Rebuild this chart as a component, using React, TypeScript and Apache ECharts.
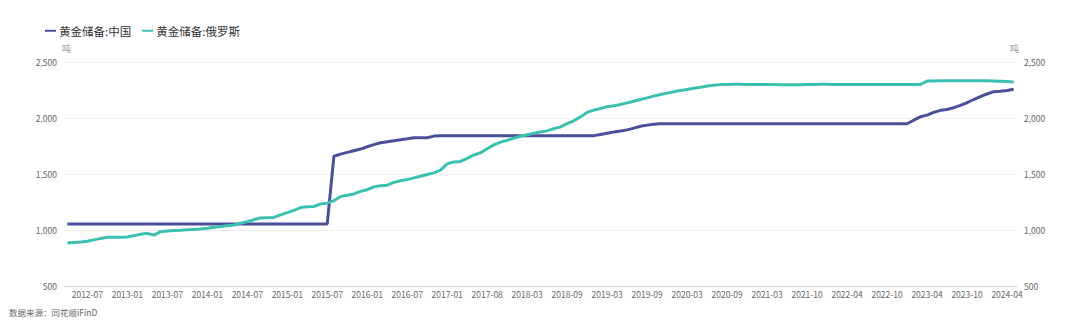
import React, { useEffect, useRef } from "react";
import * as echarts from "echarts";

const categories: string[] = [
  "2012-04","2012-05","2012-06","2012-07","2012-08","2012-09","2012-10","2012-11","2012-12",
  "2013-01","2013-02","2013-03","2013-04","2013-05","2013-06","2013-07","2013-08","2013-09","2013-10","2013-11","2013-12",
  "2014-01","2014-02","2014-03","2014-04","2014-05","2014-06","2014-07","2014-08","2014-09","2014-10","2014-11","2014-12",
  "2015-01","2015-02","2015-03","2015-04","2015-05","2015-06","2015-07","2015-08","2015-09","2015-10","2015-11","2015-12",
  "2016-01","2016-02","2016-03","2016-04","2016-05","2016-06","2016-07","2016-08","2016-09","2016-10","2016-11","2016-12",
  "2017-01","2017-02","2017-03","2017-05","2017-06","2017-07","2017-08","2017-09","2017-10","2017-12",
  "2018-01","2018-02","2018-03","2018-04","2018-05","2018-06","2018-07","2018-08","2018-09","2018-10","2018-11","2018-12",
  "2019-01","2019-02","2019-03","2019-04","2019-05","2019-06","2019-07","2019-08","2019-09","2019-10","2019-11","2019-12",
  "2020-01","2020-02","2020-03","2020-04","2020-05","2020-06","2020-07","2020-08","2020-09","2020-10","2020-11","2020-12",
  "2021-01","2021-02","2021-03","2021-04","2021-05","2021-06","2021-08","2021-09","2021-10","2021-11","2021-12",
  "2022-01","2022-02","2022-03","2022-04","2022-05","2022-06","2022-07","2022-08","2022-09","2022-10","2022-11","2022-12",
  "2023-01","2023-02","2023-03","2023-04","2023-05","2023-06","2023-07","2023-08","2023-09","2023-10","2023-11","2023-12",
  "2024-01","2024-02","2024-03","2024-04","2024-05",
];

const chinaGold: number[] = [
  1054.1,1054.1,1054.1,1054.1,1054.1,1054.1,1054.1,1054.1,1054.1,1054.1,
  1054.1,1054.1,1054.1,1054.1,1054.1,1054.1,1054.1,1054.1,1054.1,1054.1,
  1054.1,1054.1,1054.1,1054.1,1054.1,1054.1,1054.1,1054.1,1054.1,1054.1,
  1054.1,1054.1,1054.1,1054.1,1054.1,1054.1,1054.1,1054.1,1054.1,1054.1,
  1658.1,1677.5,1693.1,1707.8,1722.5,1743.3,1762.3,1779.6,1788.5,1797.5,
  1805.2,1814.2,1823.3,1823.3,1823.3,1838.5,
  1842.6,1842.6,1842.6,1842.6,1842.6,1842.6,1842.6,1842.6,1842.6,1842.6,
  1842.6,1842.6,1842.6,1842.6,1842.6,1842.6,1842.6,1842.6,1842.6,1842.6,
  1842.6,1842.6,1842.6,1842.6,
  1852.5,1864.3,1874.3,1884.6,1893.9,1909.4,1925.9,1936.5,1945.1,
  1948.3,1948.3,1948.3,1948.3,1948.3,1948.3,1948.3,1948.3,1948.3,1948.3,
  1948.3,1948.3,1948.3,1948.3,1948.3,1948.3,1948.3,1948.3,1948.3,1948.3,
  1948.3,1948.3,1948.3,1948.3,1948.3,1948.3,1948.3,1948.3,1948.3,1948.3,
  1948.3,1948.3,1948.3,1948.3,1948.3,1948.3,1948.3,1948.3,
  1980.3,2010.5,2025.4,2050.3,2068.4,2076.3,2092.1,2113.2,2136.2,2165.1,
  2191.4,2214.5,2235.3,2239.9,2244.9,2257.0,
];

const russiaGold: number[] = [
  883,888,893,900,912,925,935,935,935,938,
  950,962,970,955,985,992,995,998,1002,1005,
  1008,1015,1025,1032,1038,1045,1060,1075,1092,1108,
  1110,1112,1135,1155,1175,1200,1207,1210,1232,1240,
  1262,1300,1310,1322,1345,1360,1385,1395,1400,1425,
  1440,1450,1465,1480,1495,1510,1535,1590,1608,1612,
  1640,1670,1690,1725,1760,1785,1800,1820,1837,1850,
  1865,1875,1885,1905,1920,1950,1975,2010,2050,2070,
  2085,2100,2110,2120,2135,2150,2165,2180,2195,2210,
  2222,2235,2245,2255,2265,2275,2285,2292,2298,2300,
  2301,2301,2300,2300,2299,2299,2298,2297,2296,2296,
  2297,2299,2300,2301,2301,2300,2300,2300,2300,2300,
  2300,2300,2300,2300,2300,2300,2300,2300,2300,
  2330,2331,2332,2332,2332,2333,2333,2333,2332,2332,
  2331,2328,2325,2322,
];

const yTicks = { min: 500, max: 2500, interval: 500 };
const seriesNames = ["黄金储备:中国", "黄金储备:俄罗斯"];
const seriesColors = ["#4A4F9A", "#3CC1B1"];
const unitName = "吨";
const sourceText = "数据来源：同花顺iFinD";

const FONT = "'Noto Sans CJK SC', 'Noto Sans', sans-serif";

export default function App() {
  const ref = useRef<HTMLDivElement>(null);
  useEffect(() => {
    if (!ref.current) return;
    const chart = echarts.init(ref.current, undefined, { renderer: "svg" });
    const fmt = (v: number) => v.toLocaleString("en-US");
    const yAxisBase = (pos: "left" | "right") => ({
      type: "value",
      position: pos,
      min: yTicks.min,
      max: yTicks.max,
      interval: yTicks.interval,
      name: unitName,
      nameLocation: "end",
      nameGap: 9,
      nameTextStyle: { color: "#999", fontSize: 9, fontFamily: FONT, align: pos === "left" ? "left" : "right", padding: pos === "left" ? [0, 0, 0, -2] : [0, -2, 0, 0] },
      axisLine: { show: false },
      axisTick: { show: false },
      axisLabel: { color: "#666", fontSize: 8.5, fontFamily: FONT, margin: 7, formatter: fmt },
      splitLine: { show: pos === "left", lineStyle: { color: "#F0F0F0", width: 1 } },
    });
    chart.setOption({
      animation: false,
      textStyle: { fontFamily: FONT },
      legend: {
        left: 40,
        top: 20,
        itemWidth: 11,
        itemHeight: 2,
        itemGap: 11,
        icon: "rect",
        textStyle: { color: "#333", fontSize: 11.5, fontFamily: FONT, padding: [0, 0, 0, -2] },
        data: seriesNames,
      },
      grid: { left: 64, right: 63, top: 62, bottom: 43, containLabel: false },
      xAxis: {
        type: "category",
        data: categories,
        boundaryGap: true,
        axisLine: { show: true, lineStyle: { color: "#CCCCDD", width: 1 } },
        axisTick: { show: false },
        axisLabel: {
          color: "#666",
          fontSize: 8.5,
          fontFamily: FONT,
          margin: 4,
          hideOverlap: false,
          interval: (index: number) => (index - 3) % 6 === 0 && index >= 3,
        },
        splitLine: { show: false },
      },
      yAxis: [yAxisBase("left"), yAxisBase("right")],
      series: [
        {
          name: seriesNames[0],
          type: "line",
          data: chinaGold,
          yAxisIndex: 0,
          showSymbol: false,
          symbol: "none",
          lineStyle: { color: seriesColors[0], width: 3 },
          itemStyle: { color: seriesColors[0] },
        },
        {
          name: seriesNames[1],
          type: "line",
          data: russiaGold,
          yAxisIndex: 1,
          showSymbol: false,
          symbol: "none",
          lineStyle: { color: seriesColors[1], width: 3 },
          itemStyle: { color: seriesColors[1] },
        },
      ],
      graphic: [
        {
          type: "text",
          left: 9,
          top: 308,
          style: { text: sourceText, fill: "#666", fontSize: 8.5, fontFamily: FONT },
        },
      ],
    });
    return () => chart.dispose();
  }, []);
  return (
    <div
      ref={ref}
      style={{ position: "fixed", left: 0, top: 0, width: 1080, height: 329, background: "#fff" }}
    />
  );
}
